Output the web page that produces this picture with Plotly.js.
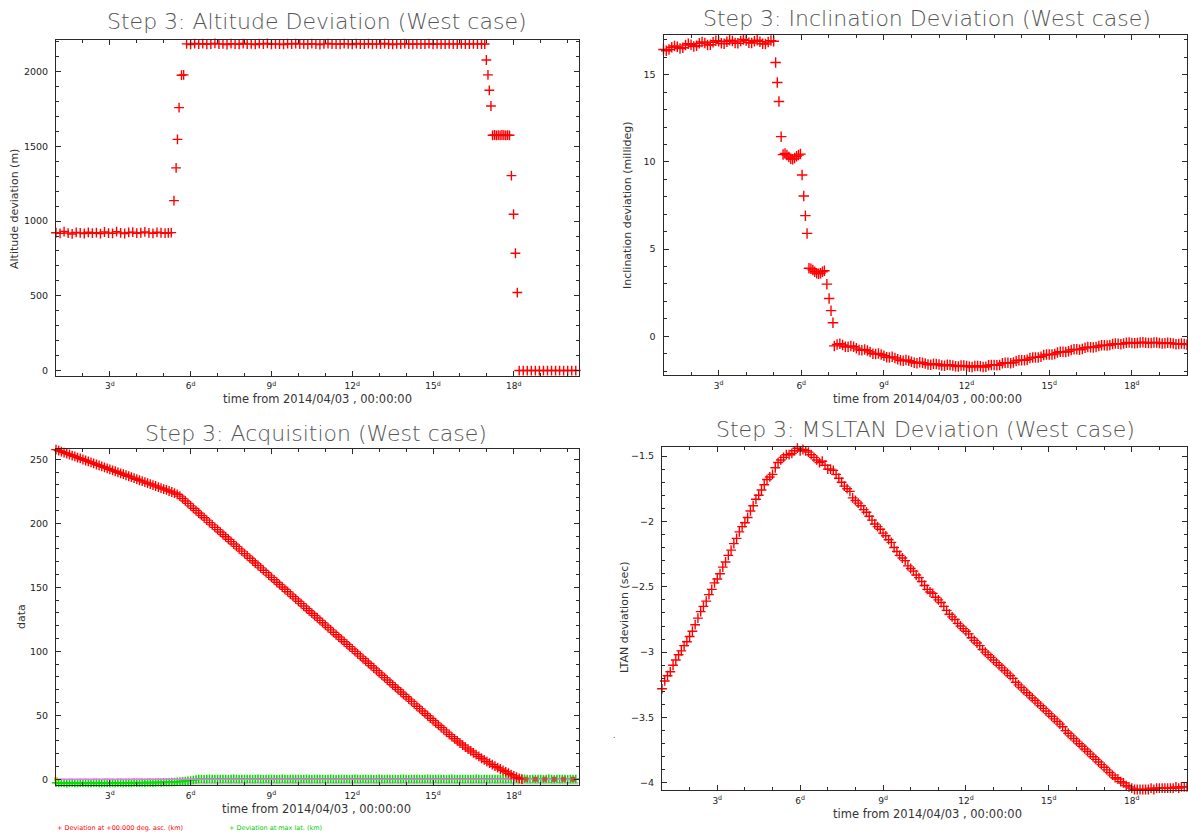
<!DOCTYPE html>
<html>
<head>
<meta charset="utf-8">
<script src="https://cdn.plot.ly/plotly-3.0.1.min.js"></script>
<style>html,body{margin:0;padding:0;background:#fff;}#chart{width:1188px;height:835px;}</style>
</head>
<body>
<div id="chart"></div>
<script>
// ---------------- DATA ----------------
// shared x-axis tick labels (days since 2014/04/03 00:00:00)
const dayTickVals = [3, 6, 9, 12, 15, 18];
const dayTickText = ['3<sup>d</sup>', '6<sup>d</sup>', '9<sup>d</sup>', '12<sup>d</sup>', '15<sup>d</sup>', '18<sup>d</sup>'];

// Panel 1: Altitude deviation (m)
const altT = [
  1.0,1.15,1.3,1.45,1.6,1.75,1.9,2.05,2.2,2.35,2.5,2.65,2.8,2.95,3.1,3.25,3.4,3.55,3.7,3.85,4.0,4.15,4.3,4.45,4.6,4.75,4.9,5.05,5.17,5.28,
  5.38,5.46,5.51,5.57,5.66,5.74,
  5.85,6.0,6.15,6.3,6.45,6.6,6.75,6.9,7.05,7.2,7.35,7.5,7.65,7.8,7.95,8.1,8.25,8.4,8.55,8.7,8.85,9.0,9.15,9.3,9.45,9.6,9.75,9.9,
  10.05,10.2,10.35,10.5,10.65,10.8,10.95,11.1,11.25,11.4,11.55,11.7,11.85,12.0,12.15,12.3,12.45,12.6,12.75,12.9,13.05,13.2,13.35,
  13.5,13.65,13.8,13.95,14.1,14.25,14.4,14.55,14.7,14.85,15.0,15.15,15.3,15.45,15.6,15.75,15.9,16.05,16.2,16.35,16.5,16.65,16.8,16.92,
  16.98,17.04,17.09,17.15,
  17.21,17.28,17.35,17.42,17.49,17.56,17.63,17.70,17.77,17.84,
  17.91,17.99,18.06,18.13,
  18.2,18.35,18.5,18.65,18.8,18.95,19.1,19.25,19.4,19.55,19.7,19.85,20.0,20.15,20.3
];
const altV = [
  922,918,930,920,914,924,921,917,925,919,923,916,927,920,918,929,921,917,924,926,919,922,928,921,918,925,922,919,921,923,
  1137,1356,1547,1759,1976,1978,
  2186,2182,2188,2184,2187,2183,2185,2189,2184,2186,2181,2187,2185,2183,2188,2184,2186,2182,2187,2185,2189,2183,2186,2184,2182,2187,2185,2188,
  2184,2186,2183,2187,2185,2181,2186,2188,2184,2185,2183,2187,2186,2182,2188,2184,2185,2187,2183,2186,2184,2188,2185,
  2182,2186,2184,2187,2185,2183,2186,2184,2185,2187,2183,2186,2184,2185,2186,2184,2185,2186,2184,2185,2186,2184,2185,2185,
  2078,1978,1875,1770,
  1574,1576,1573,1575,1574,1576,1575,1573,1575,1574,
  1304,1046,785,522,
  0,0,0,0,0,0,0,0,0,0,0,0,0,0,0
];

// Panel 2: Inclination deviation (millideg)
const incT = [
  1.0,1.1,1.2,1.3,1.4,1.5,1.6,1.7,1.8,1.9,2.0,2.1,2.2,2.3,2.4,2.5,2.6,2.7,2.8,2.9,3.0,3.1,3.2,3.3,3.4,3.5,3.6,3.7,3.8,3.9,
  4.0,4.1,4.2,4.3,4.4,4.5,4.6,4.7,4.8,4.9,5.0,
  5.07,5.13,5.19,5.27,
  5.34,5.41,5.48,5.55,5.62,5.69,5.76,5.83,5.90,5.97,
  6.03,6.09,6.15,6.21,
  6.28,6.35,6.42,6.49,6.56,6.63,6.70,6.77,6.84,
  6.93,7.01,7.08,7.15,
  7.2,7.3,7.4,7.5,7.6,7.7,7.8,7.9,8.0,8.1,8.2,8.3,8.4,8.5,8.6,8.7,8.8,8.9,9.0,9.1,9.2,9.3,9.4,9.5,9.6,9.7,9.8,9.9,
  10.0,10.1,10.2,10.3,10.4,10.5,10.6,10.7,10.8,10.9,11.0,11.1,11.2,11.3,11.4,11.5,11.6,11.7,11.8,11.9,
  12.0,12.1,12.2,12.3,12.4,12.5,12.6,12.7,12.8,12.9,13.0,13.1,13.2,13.3,13.4,13.5,13.6,13.7,13.8,13.9,
  14.0,14.1,14.2,14.3,14.4,14.5,14.6,14.7,14.8,14.9,15.0,15.1,15.2,15.3,15.4,15.5,15.6,15.7,15.8,15.9,
  16.0,16.1,16.2,16.3,16.4,16.5,16.6,16.7,16.8,16.9,17.0,17.1,17.2,17.3,17.4,17.5,17.6,17.7,17.8,17.9,
  18.0,18.1,18.2,18.3,18.4,18.5,18.6,18.7,18.8,18.9,19.0,19.1,19.2,19.3,19.4,19.5,19.6,19.7,19.8,19.9,20.0,20.1
];
const incV = [
  16.45,16.38,16.45,16.58,16.65,16.60,16.50,16.55,16.70,16.78,16.72,16.62,16.66,16.80,16.88,16.82,16.70,16.72,16.86,16.95,
  16.92,16.80,16.78,16.90,16.98,16.94,16.82,16.80,16.93,17.02,16.96,16.84,16.82,16.92,16.98,16.90,16.78,16.76,16.88,16.96,16.92,
  15.7,14.56,13.47,11.45,
  10.42,10.48,10.40,10.28,10.18,10.16,10.22,10.32,10.40,10.45,
  9.25,8.05,6.92,5.9,
  3.90,3.88,3.80,3.70,3.62,3.58,3.62,3.70,3.76,
  2.99,2.17,1.47,0.78,
  -0.55,-0.47,-0.43,-0.50,-0.60,-0.60,-0.56,-0.60,-0.68,-0.78,-0.80,-0.76,-0.82,-0.90,-1.00,-1.02,-0.98,-1.04,-1.12,-1.20,-1.22,-1.18,-1.24,-1.31,-1.38,-1.40,-1.36,-1.40,
  -1.46,-1.52,-1.54,-1.49,-1.52,-1.56,-1.62,-1.63,-1.57,-1.59,-1.62,-1.68,-1.69,-1.63,-1.65,-1.67,-1.72,-1.73,-1.67,-1.68,
  -1.71,-1.75,-1.76,-1.70,-1.70,-1.72,-1.76,-1.75,-1.66,-1.65,-1.64,-1.66,-1.64,-1.55,-1.52,-1.52,-1.54,-1.50,-1.41,-1.37,
  -1.37,-1.38,-1.34,-1.25,-1.21,-1.21,-1.21,-1.17,-1.08,-1.04,-1.04,-1.05,-1.01,-0.93,-0.89,-0.89,-0.90,-0.86,-0.78,-0.75,
  -0.75,-0.77,-0.73,-0.66,-0.62,-0.63,-0.64,-0.61,-0.55,-0.51,-0.52,-0.53,-0.50,-0.44,-0.42,-0.43,-0.45,-0.42,-0.37,-0.36,
  -0.38,-0.40,-0.38,-0.35,-0.34,-0.37,-0.39,-0.38,-0.35,-0.35,-0.38,-0.41,-0.40,-0.37,-0.38,-0.42,-0.45,-0.44,-0.42,-0.44,-0.48,-0.51
];

// Panels 3 and 4 share this sampling grid (days)
const tDays = [
  1.0,1.1,1.2,1.3,1.4,1.5,1.6,1.7,1.8,1.9,2.0,2.1,2.2,2.3,2.4,2.5,2.6,2.7,2.8,2.9,
  3.0,3.1,3.2,3.3,3.4,3.5,3.6,3.7,3.8,3.9,4.0,4.1,4.2,4.3,4.4,4.5,4.6,4.7,4.8,4.9,
  5.0,5.1,5.2,5.3,5.4,5.5,5.6,5.7,5.8,5.9,6.0,6.1,6.2,6.3,6.4,6.5,6.6,6.7,6.8,6.9,
  7.0,7.1,7.2,7.3,7.4,7.5,7.6,7.7,7.8,7.9,8.0,8.1,8.2,8.3,8.4,8.5,8.6,8.7,8.8,8.9,
  9.0,9.1,9.2,9.3,9.4,9.5,9.6,9.7,9.8,9.9,10.0,10.1,10.2,10.3,10.4,10.5,10.6,10.7,10.8,10.9,
  11.0,11.1,11.2,11.3,11.4,11.5,11.6,11.7,11.8,11.9,12.0,12.1,12.2,12.3,12.4,12.5,12.6,12.7,12.8,12.9,
  13.0,13.1,13.2,13.3,13.4,13.5,13.6,13.7,13.8,13.9,14.0,14.1,14.2,14.3,14.4,14.5,14.6,14.7,14.8,14.9,
  15.0,15.1,15.2,15.3,15.4,15.5,15.6,15.7,15.8,15.9,16.0,16.1,16.2,16.3,16.4,16.5,16.6,16.7,16.8,16.9,
  17.0,17.1,17.2,17.3,17.4,17.5,17.6,17.7,17.8,17.9,18.0,18.1,18.2,18.3,18.4,18.5,18.6,18.7,18.8,18.9,
  19.0,19.1,19.2,19.3,19.4,19.5,19.6,19.7,19.8,19.9,20.0,20.1,20.2,20.3
];

// Panel 3: Acquisition - Deviation at +00.000 deg. asc. (km)
const ascDevV = [
  257.5,256.8,256.0,255.2,254.5,253.7,252.9,252.2,251.3,250.6,249.8,249.0,248.3,247.5,246.8,245.9,245.2,244.4,243.7,242.9,
  242.1,241.3,240.6,239.8,239.0,238.3,237.5,236.7,236.0,235.2,234.4,233.6,232.9,232.1,231.3,230.6,229.8,229.1,228.2,227.5,
  226.7,226.0,225.2,224.4,223.6,222.6,221.2,219.3,217.4,215.5,213.6,211.7,209.9,208.0,206.1,204.3,202.4,200.5,198.7,196.8,
  195.0,193.1,191.2,189.4,187.5,185.6,183.8,181.9,180.0,178.2,176.3,174.5,172.6,170.7,168.9,167.0,165.1,163.3,161.4,159.5,
  157.7,155.8,153.9,152.1,150.2,148.4,146.5,144.6,142.8,140.9,139.0,137.2,135.3,133.4,131.6,129.7,127.9,126.0,124.1,122.3,
  120.4,118.5,116.7,114.8,112.9,111.1,109.2,107.4,105.5,103.6,101.8,99.9,98.0,96.2,94.3,92.4,90.6,88.7,86.9,85.0,
  83.1,81.3,79.4,77.5,75.7,73.8,71.9,70.1,68.2,66.4,64.5,62.6,60.8,58.9,57.0,55.2,53.3,51.4,49.6,47.7,
  45.9,44.0,42.2,40.4,38.6,36.8,35.0,33.3,31.6,29.9,28.3,26.7,25.1,23.6,22.1,20.6,19.2,17.8,16.4,15.1,
  13.8,12.6,11.4,10.2,9.1,8.0,6.9,5.8,4.7,3.6,2.6,1.6,0.7,0.1
];
// after convergence: points at zero (where both series overlap)
const ascTailT = [18.45, 18.8, 19.15, 19.5, 19.85, 20.2];
const ascTailV = [0, 0, 0, 0, 0, 0];

// Panel 3: Acquisition - Deviation at max lat. (km)
const maxLatV = [
  -2.8,-3.0,-2.7,-2.9,-3.1,-2.8,-2.7,-3.0,-2.9,-2.8,-3.0,-2.7,-2.9,-3.0,-2.8,-2.7,-2.9,-3.0,-2.8,-2.7,
  -2.9,-2.8,-3.0,-2.7,-2.8,-2.9,-2.7,-2.8,-2.9,-2.6,-2.8,-2.7,-2.6,-2.8,-2.6,-2.5,-2.7,-2.5,-2.4,-2.6,
  -2.4,-2.3,-2.4,-2.2,-2.1,-2.0,-1.8,-1.6,-1.4,-1.2,-0.9,-0.6,-0.2,0.2,0.3,0.1,0.2,0.4,0.2,0.1,
  0.3,0.2,0.2,0.3,0.1,0.2,0.4,0.2,0.1,0.3,0.2,0.2,0.3,0.1,0.2,0.4,0.2,0.1,0.3,0.2,
  0.2,0.3,0.1,0.2,0.4,0.2,0.1,0.3,0.2,0.2,0.3,0.1,0.2,0.4,0.2,0.1,0.3,0.2,0.2,0.3,
  0.1,0.2,0.4,0.2,0.1,0.3,0.2,0.2,0.3,0.1,0.2,0.4,0.2,0.1,0.3,0.2,0.2,0.3,0.1,0.2,
  0.4,0.2,0.1,0.3,0.2,0.2,0.3,0.1,0.2,0.4,0.2,0.1,0.3,0.2,0.2,0.3,0.1,0.2,0.4,0.2,
  0.1,0.3,0.2,0.2,0.3,0.1,0.2,0.4,0.2,0.1,0.3,0.2,0.2,0.3,0.1,0.2,0.4,0.2,0.1,0.3,
  0.2,0.2,0.3,0.1,0.2,0.4,0.2,0.1,0.3,0.2,0.2,0.3,0.1,0.2,0.4,0.2,0.1,0.3,0.2,0.2,
  0.3,0.1,0.2,0.4,0.2,0.1,0.3,0.2,0.2,0.3,0.1,0.2,0.1,0.2
];
// reference lines drawn in the acquisition panel
const zeroRefT = [1.0, 20.4];
const zeroRefV = [0, 0];
const grayRefT = [1.0, 20.4];
const grayRefV = [-3.2, -3.2];
const startMarkT = [1.0];
const startMarkV = [0];

// Panel 4: MSLTAN / LTAN deviation (sec)
const ltanV = [
  -3.28,-3.22,-3.18,-3.15,-3.10,-3.06,-3.02,-2.99,-2.95,-2.92,-2.88,-2.84,-2.79,-2.74,-2.69,-2.65,-2.61,-2.56,-2.52,-2.47,
  -2.44,-2.40,-2.35,-2.31,-2.26,-2.22,-2.17,-2.13,-2.08,-2.04,-2.01,-1.97,-1.92,-1.88,-1.83,-1.80,-1.76,-1.72,-1.68,-1.66,
  -1.64,-1.59,-1.55,-1.53,-1.51,-1.49,-1.49,-1.48,-1.46,-1.44,-1.46,-1.45,-1.46,-1.47,-1.49,-1.51,-1.53,-1.55,-1.54,-1.57,
  -1.60,-1.60,-1.61,-1.64,-1.67,-1.70,-1.73,-1.75,-1.77,-1.82,-1.84,-1.86,-1.88,-1.91,-1.93,-1.96,-1.99,-2.02,-2.04,-2.06,
  -2.09,-2.11,-2.14,-2.16,-2.20,-2.23,-2.26,-2.28,-2.30,-2.34,-2.36,-2.38,-2.41,-2.43,-2.46,-2.49,-2.52,-2.54,-2.55,-2.58,
  -2.60,-2.62,-2.65,-2.68,-2.71,-2.73,-2.75,-2.78,-2.80,-2.82,-2.84,-2.86,-2.89,-2.91,-2.93,-2.95,-2.98,-3.00,-3.02,-3.04,
  -3.06,-3.08,-3.10,-3.12,-3.14,-3.16,-3.18,-3.20,-3.23,-3.25,-3.27,-3.29,-3.31,-3.33,-3.35,-3.37,-3.39,-3.41,-3.43,-3.45,
  -3.47,-3.49,-3.51,-3.53,-3.55,-3.57,-3.60,-3.62,-3.64,-3.66,-3.68,-3.70,-3.72,-3.74,-3.76,-3.78,-3.80,-3.82,-3.84,-3.86,
  -3.88,-3.90,-3.92,-3.94,-3.96,-3.97,-3.99,-4.00,-4.02,-4.03,-4.04,-4.05,-4.05,-4.05,-4.05,-4.05,-4.05,-4.04,-4.05,-4.04,
  -4.04,-4.04,-4.04,-4.04,-4.04,-4.04,-4.03,-4.04,-4.03,-4.03,-4.03,-4.03,-4.03,-4.03
];

// ---------------- STYLE / LAYOUT ----------------
const W = 1188, H = 835;
const px = x => x / W;
const py = y => 1 - y / H;
const FONT = 'DejaVu Sans, Liberation Sans, sans-serif';
const AX = '#2a2a2a';
const RED = '#ff0000';

function redCross(size) {
  return {symbol: 'cross-thin', size: size, color: RED, line: {color: RED, width: 1.4}};
}

function xAxis(l, r, range, anchor) {
  return {
    domain: [px(l), px(r)], range: range, anchor: anchor,
    tickmode: 'array', tickvals: dayTickVals, ticktext: dayTickText,
    ticks: 'inside', ticklen: 5, tickwidth: 1, tickcolor: AX,
    minor: {dtick: 1, tick0: 0, ticks: 'inside', ticklen: 3, tickcolor: AX, tickwidth: 1},
    showline: true, linecolor: AX, linewidth: 1, mirror: 'allticks',
    showgrid: false, zeroline: false, ticklabelstandoff: 2,
    tickfont: {family: FONT, size: 9, color: '#222'}
  };
}
function yAxis(top, bot, range, anchor, major, minorStep) {
  return {
    domain: [py(bot), py(top)], range: range, anchor: anchor,
    tickmode: 'linear', tick0: 0, dtick: major,
    ticks: 'inside', ticklen: 5, tickwidth: 1, tickcolor: AX,
    minor: {dtick: minorStep, tick0: 0, ticks: 'inside', ticklen: 3, tickcolor: AX, tickwidth: 1},
    showline: true, linecolor: AX, linewidth: 1, mirror: 'allticks',
    showgrid: false, zeroline: false, ticklabelstandoff: 5,
    tickfont: {family: FONT, size: 9.5, color: '#222'}
  };
}

const traces = [
  {x: altT, y: altV, xaxis: 'x', yaxis: 'y', mode: 'markers', type: 'scatter', cliponaxis: false, marker: redCross(7)},
  {x: incT, y: incV, xaxis: 'x2', yaxis: 'y2', mode: 'markers', type: 'scatter', cliponaxis: false, marker: redCross(7.5)},
  {x: grayRefT, y: grayRefV, xaxis: 'x3', yaxis: 'y3', mode: 'lines', type: 'scatter', line: {color: '#c8c8c8', width: 2.5}},
  {x: tDays, y: maxLatV, xaxis: 'x3', yaxis: 'y3', mode: 'markers', type: 'scatter', cliponaxis: false,
   marker: {symbol: 'cross-thin', size: 6, color: '#00e000', line: {color: '#00e000', width: 1.6}}},
  {x: zeroRefT, y: zeroRefV, xaxis: 'x3', yaxis: 'y3', mode: 'lines', type: 'scatter', line: {color: '#ff66ff', width: 1.5}},
  {x: tDays, y: ascDevV, xaxis: 'x3', yaxis: 'y3', mode: 'markers', type: 'scatter', cliponaxis: false, marker: redCross(7)},
  {x: ascTailT, y: ascTailV, xaxis: 'x3', yaxis: 'y3', mode: 'markers', type: 'scatter', cliponaxis: false,
   marker: {symbol: 'square', size: 5, color: '#b85a3a', line: {width: 0}}},
  {x: startMarkT, y: startMarkV, xaxis: 'x3', yaxis: 'y3', mode: 'markers', type: 'scatter', cliponaxis: false,
   marker: {symbol: 'square', size: 4, color: '#e8c000', line: {width: 0}}},
  {x: tDays, y: ltanV, xaxis: 'x4', yaxis: 'y4', mode: 'markers', type: 'scatter', cliponaxis: false, marker: redCross(7)}
];

function ann(text, x, y, size, color, extra) {
  return Object.assign({text: text, xref: 'paper', yref: 'paper', x: px(x), y: py(y),
    xanchor: 'center', yanchor: 'middle', showarrow: false,
    font: {family: FONT, size: size, color: color}}, extra || {});
}
const TITLE_C = '#555555', LAB_C = '#333333';
const titleFont = (t, x, y) => ann(t, x, y, 22, TITLE_C, {font: {family: FONT, size: 22, color: TITLE_C, weight: 200}});

const annotations = [
  titleFont('Step 3: Altitude Deviation (West case)', 317, 21),
  titleFont('Step 3: Inclination Deviation (West case)', 927, 18),
  titleFont('Step 3: Acquisition (West case)', 316, 433),
  titleFont('Step 3: MSLTAN Deviation (West case)', 926, 430),
  ann('Altitude deviation (m)', 15, 209, 11, LAB_C, {textangle: -90}),
  ann('Inclination deviation (millideg)', 627, 205, 11, LAB_C, {textangle: -90}),
  ann('data', 21, 617, 11, LAB_C, {textangle: -90}),
  ann('LTAN deviation (sec)', 624, 618, 11, LAB_C, {textangle: -90}),
  ann('time from 2014/04/03 , 00:00:00', 317, 399, 11.5, LAB_C),
  ann('time from 2014/04/03 , 00:00:00', 927, 399, 11.5, LAB_C),
  ann('time from 2014/04/03 , 00:00:00', 316, 809, 11.5, LAB_C),
  ann('time from 2014/04/03 , 00:00:00', 927, 814, 11.5, LAB_C),
  ann('+ Deviation at +00.000 deg. asc. (km)', 55, 828, 6.5, '#ff0000', {xanchor: 'left'}),
  ann('+ Deviation at max lat. (km)', 227, 828, 6.5, '#00cc00', {xanchor: 'left'}),
  ann('.', 615, 735, 8, '#444')
];

const layout = {
  width: W, height: H,
  margin: {l: 0, r: 0, t: 0, b: 0},
  paper_bgcolor: '#ffffff', plot_bgcolor: '#ffffff',
  showlegend: false,
  font: {family: FONT},
  xaxis: xAxis(56, 579, [1.0, 20.42], 'y'),
  yaxis: yAxis(39.5, 375.5, [-33, 2215], 'x', 500, 100),
  xaxis2: xAxis(663.5, 1187, [1.0, 20.0], 'y2'),
  yaxis2: yAxis(35, 375, [-2.22, 17.28], 'x2', 5, 1),
  xaxis3: xAxis(56, 579, [1.0, 20.42], 'y3'),
  yaxis3: yAxis(449, 785, [-4.5, 258], 'x3', 50, 10),
  xaxis4: xAxis(662, 1187, [1.0, 20.0], 'y4'),
  yaxis4: yAxis(447, 790, [-4.054, -1.431], 'x4', 0.5, 0.1),
  annotations: annotations
};
layout.yaxis4.tick0 = -4;

Plotly.newPlot('chart', traces, layout, {staticPlot: true, displayModeBar: false});
</script>
</body>
</html>
